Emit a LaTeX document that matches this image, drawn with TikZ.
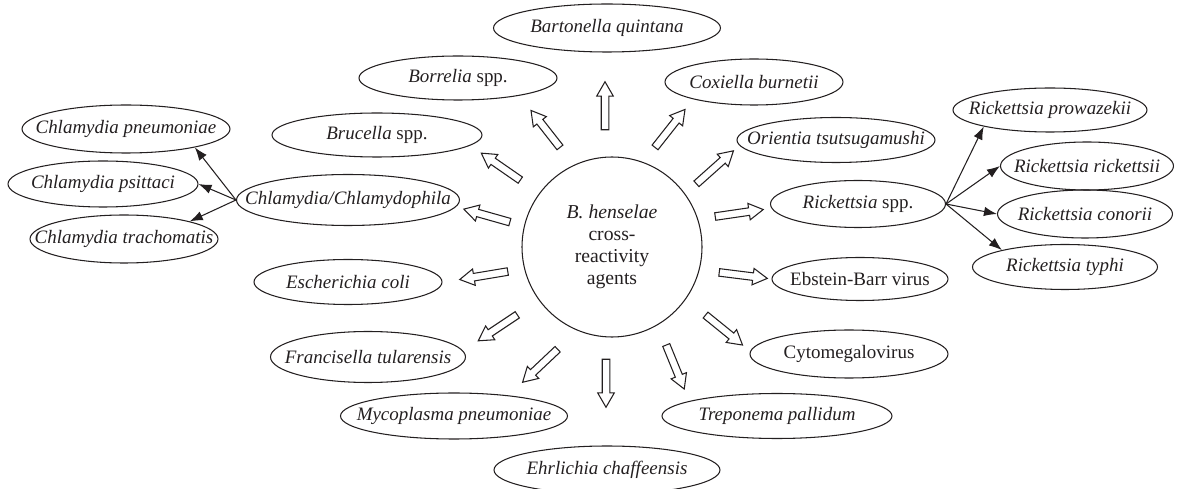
\documentclass[tikz,border=0pt]{standalone}
\usepackage{fontspec}
\setmainfont{Liberation Serif}
\usetikzlibrary{arrows.meta,positioning,calc,shapes.geometric,shapes.arrows}
\definecolor{inkDark}{HTML}{231f20}
\tikzset{
  >={Latex[length=2.6mm,width=1.9mm]},
  agent/.style={ellipse, draw=inkDark, line width=0.6pt, text=inkDark,
              inner xsep=-3cm, inner ysep=-1cm, minimum height=0.92cm,
              font=\fontsize{10.8}{12}\selectfont},
  hub/.style={circle, draw=inkDark, line width=0.6pt, text=inkDark,
              minimum size=3.6cm, align=center, inner sep=0pt,
              font=\fontsize{11.2}{12.6}\selectfont},
  blk/.style={single arrow, draw=inkDark, fill=white, line width=0.6pt,
              inner xsep=0pt, inner ysep=0.065cm, outer sep=0pt,
              single arrow head extend=0.09cm, single arrow tip angle=60},
  link/.style={->, draw=inkDark, line width=0.6pt},
}
\newcommand{\blockarrow}[3]{% name, tail, tip
  \path let \p1=($(#3)-(#2)$), \n1={atan2(\y1,\x1)}, \n2={veclen(\x1,\y1)} in
    node[blk, rotate=\n1, minimum height=\n2] (#1) at ($(#2)!0.5!(#3)$) {};}

\begin{document}
\begin{tikzpicture}
  \useasboundingbox (0,0) rectangle (23.54,9.78);
    \node[hub] (hub) at (12.24,4.84)
      {\textit{B. henselae}\\cross-\\reactivity\\agents};

    \node[agent,minimum width=4.54cm,minimum height=0.96cm] (bq) at (12.14,9.22) {\textit{Bartonella quintana}};
    \node[agent,minimum width=3.96cm,minimum height=0.88cm] (bor) at (9.16,8.22) {\textit{Borrelia} spp.};
    \node[agent,minimum width=3.56cm] (cox) at (15.08,8.14) {\textit{Coxiella burnetii}};
    \node[agent,minimum width=4.20cm,minimum height=0.88cm] (bru) at (7.54,7.08) {\textit{Brucella} spp.};
    \node[agent,minimum width=3.96cm,minimum height=0.90cm] (ori) at (16.72,6.98) {\textit{Orientia tsutsugamushi}};
    \node[agent,minimum width=4.46cm,minimum height=1.02cm] (chl) at (6.96,5.78) {\textit{Chlamydia/Chlamydophila}};
    \node[agent,minimum width=3.50cm,minimum height=0.94cm] (ric) at (17.16,5.70) {\textit{Rickettsia} spp.};
    \node[agent,minimum width=3.76cm,minimum height=0.90cm] (eco) at (6.96,4.14) {\textit{Escherichia coli}};
    \node[agent,minimum width=3.52cm,minimum height=0.86cm] (ebv) at (17.20,4.20) {Ebstein-Barr virus};
    \node[agent,minimum width=3.90cm,minimum height=1.02cm] (fra) at (7.36,2.64) {\textit{Francisella tularensis}};
    \node[agent,minimum width=3.96cm,minimum height=0.96cm] (cmv) at (16.98,2.70) {Cytomegalovirus};
    \node[agent,minimum width=4.54cm] (myc) at (9.08,1.46) {\textit{Mycoplasma pneumoniae}};
    \node[agent,minimum width=4.60cm,minimum height=0.90cm] (tre) at (15.54,1.46) {\textit{Treponema pallidum}};
    \node[agent,minimum width=4.52cm,minimum height=0.96cm] (ehr) at (12.14,0.38) {\textit{Ehrlichia chaffeensis}};

    \node[agent,minimum width=4.16cm,minimum height=0.96cm] (cpn) at (2.52,7.20) {\textit{Chlamydia pneumoniae}};
    \node[agent,minimum width=3.80cm] (cps) at (2.06,6.10) {\textit{Chlamydia psittaci}};
    \node[agent,minimum width=3.76cm,minimum height=0.96cm] (ctr) at (2.48,5.00) {\textit{Chlamydia trachomatis}};

    \node[agent,minimum width=3.88cm,minimum height=0.88cm] (rpr) at (21.00,7.58) {\textit{Rickettsia prowazekii}};
    \node[agent,minimum width=3.46cm,minimum height=0.96cm] (rri) at (21.74,6.46) {\textit{Rickettsia rickettsii}};
    \node[agent,minimum width=3.50cm,minimum height=0.96cm] (rco) at (21.70,5.50) {\textit{Rickettsia conorii}};
    \node[agent,minimum width=3.70cm,minimum height=0.90cm] (rty) at (21.30,4.44) {\textit{Rickettsia typhi}};

    \blockarrow{a-bq}{12.10,7.12}{12.10,8.08}
    \blockarrow{a-bor}{11.24,6.78}{10.66,7.52}
    \blockarrow{a-cox}{13.06,6.78}{13.66,7.54}
    \blockarrow{a-bru}{10.46,6.14}{9.68,6.68}
    \blockarrow{a-ori}{13.88,6.06}{14.62,6.72}
    \blockarrow{a-chl}{10.26,5.32}{9.34,5.58}
    \blockarrow{a-ric}{14.24,5.44}{15.20,5.58}
    \blockarrow{a-eco}{10.22,4.36}{9.26,4.20}
    \blockarrow{a-ebv}{14.32,4.34}{15.28,4.22}
    \blockarrow{a-fra}{10.40,3.52}{9.62,3.00}
    \blockarrow{a-cmv}{14.06,3.52}{14.80,2.92}
    \blockarrow{a-myc}{11.20,2.84}{10.50,2.18}
    \blockarrow{a-ehr}{12.12,2.66}{12.12,1.70}
    \blockarrow{a-tre}{13.30,2.94}{13.66,2.06}

    \draw[link] (chl.west) -- (cpn.345);
    \draw[link] (chl.west) -- (cps.east);
    \draw[link] (chl.west) -- (ctr.15);
    \draw[link] (ric.east) -- (rpr.194);
    \draw[link] (ric.east) -- (rri.west);
    \draw[link] (ric.east) -- (rco.west);
    \draw[link] (ric.east) -- (rty.165);
  \end{tikzpicture}
\end{document}
